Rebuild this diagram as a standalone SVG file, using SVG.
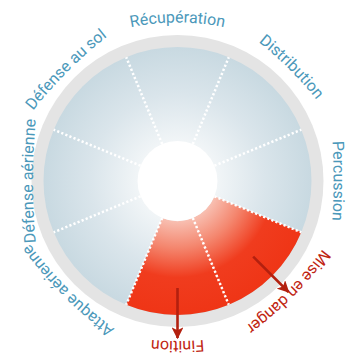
<svg xmlns="http://www.w3.org/2000/svg" xmlns:xlink="http://www.w3.org/1999/xlink" width="348" height="358" viewBox="0 0 348 358">
<style>
.lbl{font-family:Roboto,"Liberation Sans",sans-serif;font-size:16px;fill:#4b98ba}
.lbl.hot{fill:#bf2512}
.div{stroke:#ffffff;stroke-width:2.5;stroke-dasharray:2.2 2.2;fill:none}
.arrow{stroke:#b3200f;stroke-width:2.6;fill:none;marker-end:url(#ah)}
.hotseg{fill:url(#redg)}
</style>
<defs>
<radialGradient id="blueg" gradientUnits="userSpaceOnUse" cx="177.5" cy="181" r="134">
<stop offset="0.3" stop-color="#f1f5f7"/>
<stop offset="0.65" stop-color="#dae5eb"/>
<stop offset="1" stop-color="#c8d9e1"/>
</radialGradient>
<radialGradient id="redg" gradientUnits="userSpaceOnUse" cx="177.5" cy="181" r="134">
<stop offset="0.3" stop-color="#f8bfb1"/>
<stop offset="0.5" stop-color="#f4866e"/>
<stop offset="0.72" stop-color="#f03c1e"/>
<stop offset="1" stop-color="#ef3516"/>
</radialGradient>
<marker id="ah" viewBox="0 0 10 10" refX="9" refY="5" markerWidth="4.6" markerHeight="4.6" orient="auto" markerUnits="strokeWidth">
<path d="M0,0 L10,5 L0,10 L2.5,5 Z" fill="#b3200f"/>
</marker>
<path id="p-rec" d="M80.6 43.89 A230 230 0 0 1 274.4 43.89"/>
<path id="p-dis" d="M209.44 9.58 A350 350 0 0 1 348.92 149.06"/>
<path id="p-per" d="M326.37 81.34 A700 700 0 0 1 326.37 280.66"/>
<path id="p-mis" d="M346.80 210.82 A350 350 0 0 1 207.32 350.30"/>
<path id="p-fin" d="M275.66 324.5 A300 300 0 0 1 79.34 324.5"/>
<path id="p-att" d="M147.73 350.73 A400 400 0 0 1 7.77 210.77"/>
<path id="p-dae" d="M40.13 280.66 A700 700 0 0 1 40.13 81.34"/>
<path id="p-das" d="M5.60 149.36 A450 450 0 0 1 145.86 9.10"/>
</defs>

<g id="wheel">
<circle cx="177.5" cy="181" r="146" fill="#e4e4e4"/>
<circle cx="177.5" cy="181" r="134" fill="url(#blueg)"/>
</g>

<g id="seg-mise-en-danger">
<path class="hotseg" d="M301.30 232.28 A134 134 0 0 1 228.78 304.80 L192.81 217.96 A40 40 0 0 0 214.46 196.31 Z"/>
<text class="lbl hot"><textPath xlink:href="#p-mis" href="#p-mis" startOffset="50%" text-anchor="middle">Mise en danger</textPath></text>
</g>
<g id="seg-finition">
<path class="hotseg" d="M228.78 304.80 A134 134 0 0 1 126.22 304.80 L162.19 217.96 A40 40 0 0 0 192.81 217.96 Z"/>
<text class="lbl hot"><textPath xlink:href="#p-fin" href="#p-fin" startOffset="50%" text-anchor="middle">Finition</textPath></text>
</g>
<g id="seg-recuperation">
<text class="lbl"><textPath xlink:href="#p-rec" href="#p-rec" startOffset="50%" text-anchor="middle">Récupération</textPath></text>
</g>
<g id="seg-distribution">
<text class="lbl"><textPath xlink:href="#p-dis" href="#p-dis" startOffset="50%" text-anchor="middle">Distribution</textPath></text>
</g>
<g id="seg-percussion">
<text class="lbl"><textPath xlink:href="#p-per" href="#p-per" startOffset="50%" text-anchor="middle">Percussion</textPath></text>
</g>
<g id="seg-attaque-aerienne">
<text class="lbl"><textPath xlink:href="#p-att" href="#p-att" startOffset="50%" text-anchor="middle">Attaque aérienne</textPath></text>
</g>
<g id="seg-defense-aerienne">
<text class="lbl"><textPath xlink:href="#p-dae" href="#p-dae" startOffset="50%" text-anchor="middle">Défense aérienne</textPath></text>
</g>
<g id="seg-defense-au-sol">
<text class="lbl"><textPath xlink:href="#p-das" href="#p-das" startOffset="50%" text-anchor="middle">Défense au sol</textPath></text>
</g>

<g id="hub">
<circle cx="177.5" cy="181" r="40" fill="#ffffff"/>
</g>

<g id="dividers">
<line class="div" x1="192.81" y1="144.04" x2="228.78" y2="57.20"/>
<line class="div" x1="214.46" y1="165.69" x2="301.30" y2="129.72"/>
<line class="div" x1="214.46" y1="196.31" x2="301.30" y2="232.28"/>
<line class="div" x1="192.81" y1="217.96" x2="228.78" y2="304.80"/>
<line class="div" x1="162.19" y1="217.96" x2="126.22" y2="304.80"/>
<line class="div" x1="140.54" y1="196.31" x2="53.70" y2="232.28"/>
<line class="div" x1="140.54" y1="165.69" x2="53.70" y2="129.72"/>
<line class="div" x1="162.19" y1="144.04" x2="126.22" y2="57.20"/>
</g>

<g id="connectors">
<line class="arrow" x1="177.5" y1="288" x2="177.5" y2="338"/>
<line class="arrow" x1="253.16" y1="256.66" x2="288.5" y2="292"/>
</g>
</svg>
